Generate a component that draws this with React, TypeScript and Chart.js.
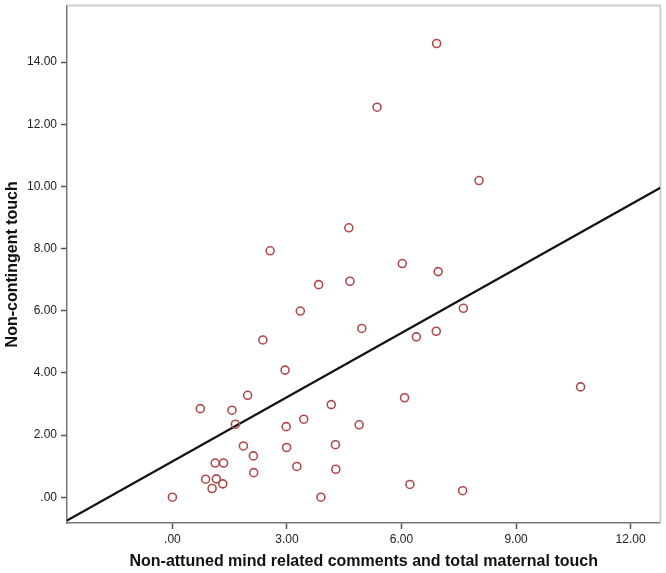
import React, { useEffect, useRef } from "react";
import { Chart, registerables } from "chart.js";

Chart.register(...registerables);

// Observed data (x = non-attuned mind related comments and total maternal touch, y = non-contingent touch)
const xValues = [
  0.0, 0.73, 1.56, 1.97, 1.65, 2.98, 2.99, 1.86, 2.12, 1.12, 1.34, 2.13, 0.87, 1.15, 1.32, 1.04,
  4.16, 3.44, 4.89, 4.27, 3.26, 4.28, 3.89,
  4.62, 2.56, 6.02, 3.83, 4.65, 3.35, 4.96, 2.37, 2.95,
  6.92, 5.36, 8.03,
  6.96, 7.62, 6.91, 6.39,
  6.08, 10.69, 6.22, 7.6,
];
const yValues = [
  0.0, 2.85, 2.8, 3.28, 2.35, 2.27, 1.6, 1.65, 1.33, 1.1, 1.1, 0.79, 0.58, 0.59, 0.43, 0.28,
  2.98, 2.51, 2.33, 1.69, 0.99, 0.9, 0.0,
  8.67, 7.93, 7.52, 6.84, 6.95, 5.99, 5.43, 5.06, 4.09,
  14.6, 12.55, 10.19,
  7.26, 6.08, 5.34, 5.16,
  3.2, 3.55, 0.41, 0.21,
];

// Fit line end points
const fitX = [-2.76, 12.78];
const fitY = [-0.75, 9.96];

// Axis ranges and ticks
const xRange = [-2.76, 12.78];
const yRange = [-0.83, 15.82];
const xTickValues = [0, 3, 6, 9, 12];
const xTickLabels = [".00", "3.00", "6.00", "9.00", "12.00"];
const yTickValues = [0, 2, 4, 6, 8, 10, 12, 14];
const yTickLabels = [".00", "2.00", "4.00", "6.00", "8.00", "10.00", "12.00", "14.00"];

const xTitle = "Non-attuned mind related comments and total maternal touch";
const yTitle = "Non-contingent touch";

const framePlugin = {
  id: "frame",
  beforeDatasetsDraw(chart: any) {
    const { ctx, chartArea } = chart;
    ctx.save();
    ctx.strokeStyle = "#cfcfcf";
    ctx.lineWidth = 2;
    ctx.beginPath();
    ctx.moveTo(chartArea.left, chartArea.top);
    ctx.lineTo(chartArea.right, chartArea.top);
    ctx.lineTo(chartArea.right, chartArea.bottom);
    ctx.stroke();
    ctx.restore();
  },
};

export default function App() {
  const ref = useRef<HTMLCanvasElement | null>(null);
  useEffect(() => {
    if (!ref.current) return;
    const points = xValues.map((x, i) => ({ x, y: yValues[i] }));
    const fit = fitX.map((x, i) => ({ x, y: fitY[i] }));
    const font = "'Liberation Sans', Arial, sans-serif";
    const chart = new Chart(ref.current, {
      type: "scatter",
      data: {
        datasets: [
          {
            data: fit,
            showLine: true,
            borderColor: "#111111",
            borderWidth: 2.2,
            pointRadius: 0,
            order: 1,
          } as any,
          {
            data: points,
            pointStyle: "circle",
            pointRadius: 4,
            pointBackgroundColor: "rgba(255,255,255,0)",
            pointBorderColor: "#b24a4c",
            pointBorderWidth: 1.6,
            order: 0,
          } as any,
        ],
      },
      options: {
        responsive: false,
        animation: false,
        layout: { padding: { top: 3, right: 4, left: 0, bottom: 0 } },
        plugins: { legend: { display: false }, tooltip: { enabled: false } },
        scales: {
          x: {
            type: "linear",
            min: xRange[0],
            max: xRange[1],
            afterFit(scale: any) {
              scale.height = 50;
              scale.paddingLeft = 0;
              scale.paddingRight = 0;
            },
            afterBuildTicks(scale: any) {
              scale.ticks = xTickValues.map((v) => ({ value: v }));
            },
            ticks: {
              padding: 3,
              color: "#222222",
              font: { family: font, size: 12 },
              maxRotation: 0,
              callback: (v: any) => xTickLabels[xTickValues.indexOf(Number(v))] ?? "",
            },
            grid: {
              drawOnChartArea: false,
              drawTicks: true,
              tickLength: 6,
              tickColor: "#555555",
              tickWidth: 1.5,
            },
            border: { display: true, color: "#777777", width: 1.5 },
            title: {
              display: true,
              text: xTitle,
              color: "#111111",
              font: { family: font, size: 16, weight: "bold" },
              padding: { top: 0, bottom: 2 },
            },
          },
          y: {
            type: "linear",
            min: yRange[0],
            max: yRange[1],
            afterFit(scale: any) {
              scale.width = 67;
              scale.paddingTop = 0;
              scale.paddingBottom = 0;
            },
            afterBuildTicks(scale: any) {
              scale.ticks = yTickValues.map((v) => ({ value: v }));
            },
            ticks: {
              padding: 4,
              color: "#222222",
              font: { family: font, size: 12 },
              callback: (v: any) => yTickLabels[yTickValues.indexOf(Number(v))] ?? "",
            },
            grid: {
              drawOnChartArea: false,
              drawTicks: true,
              tickLength: 6,
              tickColor: "#555555",
              tickWidth: 1.5,
            },
            border: { display: true, color: "#777777", width: 1.5 },
            title: {
              display: true,
              text: yTitle,
              color: "#111111",
              font: { family: font, size: 16, weight: "bold" },
              padding: { top: 3, bottom: 0 },
            },
          },
        },
      },
      plugins: [framePlugin],
    } as any);
    return () => chart.destroy();
  }, []);
  return (
    <div style={{ position: "fixed", left: 0, top: 0, width: 666, height: 573, background: "#ffffff" }}>
      <canvas ref={ref} width={666} height={573} />
    </div>
  );
}
